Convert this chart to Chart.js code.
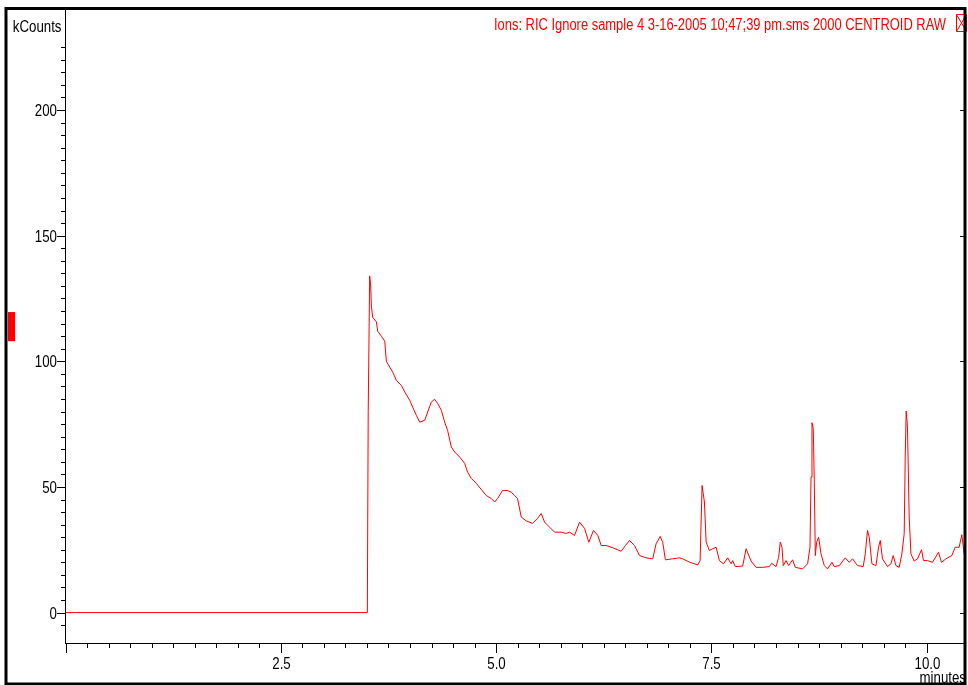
<!DOCTYPE html>
<html>
<head>
<meta charset="utf-8">
<script src="https://cdn.jsdelivr.net/npm/chart.js@4.4.1/dist/chart.umd.min.js"></script>
<style>
  html, body { margin: 0; padding: 0; background: #fff; }
  #wrap { width: 968px; height: 685px; position: relative; }
</style>
</head>
<body>
<div id="wrap"><canvas id="c" width="968" height="685"></canvas></div>
<script>
// ---- data (time in minutes, intensity in kCounts) ----
const times = [
  0, 3.505, 3.515, 3.532, 3.544, 3.552, 3.567, 3.610, 3.625, 3.668, 3.707, 3.726, 3.765, 3.799, 3.842,
  3.900, 3.939, 3.997, 4.031, 4.074, 4.113, 4.171, 4.205, 4.248, 4.287, 4.322, 4.364, 4.403, 4.437,
  4.480, 4.519, 4.577, 4.635, 4.669, 4.712, 4.770, 4.828, 4.886, 4.944, 4.983, 5.017, 5.075, 5.133,
  5.176, 5.215, 5.249, 5.292, 5.350, 5.423, 5.481, 5.524, 5.563, 5.621, 5.679, 5.756, 5.814, 5.853,
  5.911, 5.969, 6.027, 6.077, 6.131, 6.181, 6.220, 6.278, 6.355, 6.452, 6.502, 6.549, 6.607, 6.665,
  6.742, 6.819, 6.858, 6.905, 6.935, 6.966, 7.051, 7.129, 7.167, 7.245, 7.341, 7.369, 7.392, 7.419,
  7.439, 7.477, 7.515, 7.555, 7.593, 7.640, 7.689, 7.729, 7.747, 7.778, 7.863, 7.903, 7.961, 8.019,
  8.095, 8.173, 8.200, 8.251, 8.281, 8.300, 8.320, 8.335, 8.367, 8.397, 8.443, 8.475, 8.559, 8.617,
  8.645, 8.657, 8.668, 8.683, 8.695, 8.707, 8.722, 8.745, 8.773, 8.811, 8.849, 8.900, 8.927, 8.985,
  9.054, 9.101, 9.139, 9.197, 9.263, 9.287, 9.313, 9.333, 9.364, 9.411, 9.441, 9.461, 9.487, 9.545,
  9.585, 9.611, 9.643, 9.681, 9.712, 9.739, 9.751, 9.762, 9.777, 9.797, 9.817, 9.855, 9.893, 9.940,
  9.963, 10.009, 10.067, 10.137, 10.172, 10.223, 10.292, 10.331, 10.377, 10.408, 10.435
];
const kcounts = [
  0, 0, 80, 134, 130, 122, 117.5, 115.7, 112, 110, 108, 100, 97.7, 95.7, 92.4,
  90.4, 87.8, 84.5, 81.8, 78.5, 75.8, 76.5, 79.8, 83.8, 84.9, 83.2, 80.5, 75.8, 72.5,
  65.9, 63.9, 61.9, 59.4, 55.9, 53.4, 51.4, 49.0, 46.6, 45.4, 44.0, 45.4, 48.6, 48.6,
  47.9, 46.6, 45.4, 38.0, 36.5, 35.5, 37.5, 39.4, 36.0, 34.0, 32.0, 32.0, 31.5, 32.0,
  30.7, 36.0, 33.5, 28.0, 32.7, 30.7, 26.7, 26.7, 25.8, 24.4, 26.7, 28.7, 26.7, 22.7,
  21.8, 21.4, 27.4, 30.3, 28.0, 21.0, 21.4, 21.8, 21.4, 20.1, 19.0, 20.7, 50.6, 44.0,
  28.0, 24.7, 25.4, 26.0, 20.7, 19.4, 21.8, 19.4, 20.7, 18.3, 18.5, 25.4, 20.5, 18.0,
  18.0, 18.3, 19.6, 18.3, 22.0, 28.0, 26.0, 18.7, 20.7, 18.7, 21.0, 18.0, 17.4, 19.4,
  26.0, 53.9, 75.6, 73.2, 51.9, 22.7, 28.0, 30.0, 23.4, 18.7, 17.4, 20.0, 18.3, 18.7,
  21.8, 20.0, 21.4, 18.7, 18.3, 23.4, 32.7, 30.0, 19.4, 18.7, 26.0, 28.7, 21.4, 18.3,
  19.4, 22.7, 18.7, 18.0, 23.4, 31.4, 61.9, 80.2, 73.8, 38.0, 23.4, 20.5, 21.4, 25.0,
  20.7, 20.7, 20.0, 24.0, 20.0, 21.4, 22.7, 26.0, 26.0, 31.0, 23.4
];
// ---- axes / tick labels ----
const xMin = 0, xMax = 10.445, xMinorStep = 0.25;
const xTickValues = [2.5, 5.0, 7.5, 10.0];
const xTickLabels = ['2.5', '5.0', '7.5', '10.0'];
const yMin = -12.1, yMax = 239.8, yMinorStep = 5;
const yTickValues = [0, 50, 100, 150, 200];
const yTickLabels = ['0', '50', '100', '150', '200'];
const yUnitValue = 235;           // tick that carries the unit label
const yUnitLabel = 'kCounts';
const xUnitLabel = 'minutes';
const titleText = 'Ions: RIC Ignore sample 4 3-16-2005 10;47;39 pm.sms 2000 CENTROID RAW';
const markerRange = [108, 119.6];  // red marker on the left edge (kCounts)

const FONT = '"Liberation Sans", Arial, sans-serif';
Chart.defaults.font.family = FONT;
const SX = 0.83; // horizontal condensing of the narrow screen font

const near = (a, b) => Math.abs(a - b) < 1e-6;
const isMult = (v, s) => near(v / s, Math.round(v / s));

function txt(ctx, s, x, y, align, baseline, color, sx) {
  ctx.save();
  ctx.font = '16px ' + FONT;
  ctx.fillStyle = color;
  ctx.textAlign = align;
  ctx.textBaseline = baseline;
  ctx.translate(x, y);
  ctx.scale(sx, 1);
  ctx.fillText(s, 0, 0);
  ctx.restore();
}

const decor = {
  id: 'decor',
  beforeDraw(chart) {
    const c = chart.ctx;
    c.save(); c.fillStyle = '#fff'; c.fillRect(0, 0, chart.width, chart.height); c.restore();
  },
  afterDraw(chart) {
    const { ctx, chartArea: a, scales: { x, y } } = chart;
    ctx.save();
    ctx.strokeStyle = '#000';
    ctx.lineWidth = 1;
    ctx.beginPath();
    // y ticks
    y.ticks.forEach(t => {
      const v = t.value;
      if (!isMult(v, yMinorStep) || v < yMin || v > yMax) return;
      if (near(v, yUnitValue - yMinorStep)) return;
      const p = Math.round(y.getPixelForValue(v)) + 0.5;
      const major = yTickValues.some(m => near(m, v));
      const L = major ? 8.5 : 4.5;
      ctx.moveTo(a.left - L, p); ctx.lineTo(a.left, p);
      if (major) { ctx.moveTo(a.right - 5, p); ctx.lineTo(a.right, p); }
    });
    // x ticks
    x.ticks.forEach(t => {
      const v = t.value;
      if (!isMult(v, xMinorStep)) return;
      const p = Math.round(x.getPixelForValue(v)) + 0.5;
      const major = isMult(v, 2.5);
      const L = major ? 10 : 5;
      ctx.moveTo(p, a.bottom); ctx.lineTo(p, a.bottom + L);
    });
    ctx.stroke();
    ctx.restore();

    // tick labels
    yTickValues.forEach((v, i) => {
      txt(ctx, yTickLabels[i], a.left - 8.5, Math.round(y.getPixelForValue(v)) + 6, 'right', 'alphabetic', '#000', SX);
    });
    xTickValues.forEach((v, i) => {
      txt(ctx, xTickLabels[i], Math.round(x.getPixelForValue(v)) + 0.5, 668.5, 'center', 'alphabetic', '#000', SX);
    });

    // unit labels
    txt(ctx, yUnitLabel, a.left - 4, Math.round(y.getPixelForValue(yUnitValue)) + 10, 'right', 'alphabetic', '#000', SX);
    txt(ctx, xUnitLabel, 966, 683, 'right', 'alphabetic', '#000', SX);

    ctx.save();
    // red marker on the left
    ctx.fillStyle = '#ff0000';
    const m1 = y.getPixelForValue(markerRange[1]), m0 = y.getPixelForValue(markerRange[0]);
    ctx.fillRect(8, m1, 7, m0 - m1);

    // title
    ctx.font = '16px ' + FONT;
    const tw = ctx.measureText(titleText).width;
    txt(ctx, titleText, 946, 30, 'right', 'alphabetic', '#ff0000', 452 / tw);

    // close box
    ctx.strokeStyle = '#ff0000';
    ctx.lineWidth = 1;
    ctx.beginPath();
    ctx.rect(956.5, 14.5, 10, 17);
    ctx.moveTo(956.5, 14.5); ctx.lineTo(966.5, 31.5);
    ctx.moveTo(966.5, 14.5); ctx.lineTo(956.5, 31.5);
    ctx.stroke();

    // outer frame
    ctx.strokeStyle = '#000';
    ctx.lineWidth = 3;
    ctx.strokeRect(6, 8.5, 959, 675.5);
    ctx.restore();
  }
};

const data = times.map((t, i) => ({ x: t, y: kcounts[i] }));

new Chart(document.getElementById('c'), {
  type: 'line',
  data: {
    datasets: [{
      data: data,
      borderColor: '#ff0000',
      borderWidth: 1,
      pointRadius: 0,
      tension: 0,
      fill: false
    }]
  },
  options: {
    responsive: false,
    animation: false,
    events: [],
    layout: { padding: { left: 0, right: 3, top: 10, bottom: 0 } },
    plugins: { legend: { display: false }, tooltip: { enabled: false }, title: { display: false } },
    scales: {
      x: {
        type: 'linear',
        position: 'bottom',
        min: xMin, max: xMax,
        afterFit(s) { s.height = 42; s.paddingLeft = 0; s.paddingRight = 0; },
        grid: { display: false, drawTicks: false },
        border: { display: true, color: '#000', width: 1 },
        ticks: { stepSize: xMinorStep, autoSkip: false, maxRotation: 0, display: false }
      },
      y: {
        type: 'linear',
        position: 'left',
        min: yMin, max: yMax,
        afterFit(s) { s.width = 65.5; s.paddingTop = 0; s.paddingBottom = 0; },
        grid: { display: false, drawTicks: false },
        border: { display: true, color: '#000', width: 1 },
        ticks: { stepSize: yMinorStep, autoSkip: false, display: false }
      }
    }
  },
  plugins: [decor]
});
</script>
</body>
</html>
